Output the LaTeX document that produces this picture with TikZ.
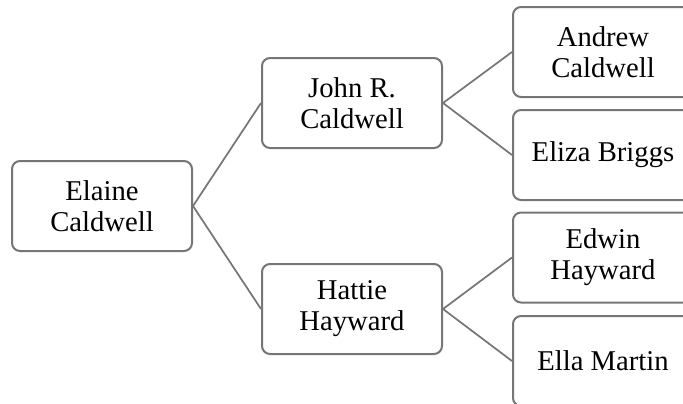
\documentclass[tikz,border=0pt]{standalone}
\usepackage{fontspec}
\setmainfont{Liberation Serif}
\definecolor{edge}{RGB}{118,118,118}
\begin{document}
\begin{tikzpicture}[x=0.75pt,y=-0.75pt,
  person/.style={draw=edge,line width=1.5pt,rounded corners=6pt,fill=white,
    minimum width=135pt,minimum height=67.5pt,align=center,inner sep=0pt,
    font=\fontsize{21.5pt}{23.25pt}\selectfont},
  link/.style={draw=edge,line width=1.3pt}]
\useasboundingbox (0,0) rectangle (683,404);
\clip (0,0) rectangle (683,404);
\node[person] (elaine) at (102,206) {Elaine\\Caldwell};
\node[person] (john) at (352,103) {John R.\\Caldwell};
\node[person] (hattie) at (352,309) {Hattie\\Hayward};
\node[person] (andrew) at (603,52) {Andrew\\Caldwell};
\node[person] (eliza) at (603,155) {Eliza Briggs};
\node[person] (edwin) at (603,257.5) {Edwin\\Hayward};
\node[person] (ella) at (603,361) {Ella Martin};
\draw[link] (elaine.east) -- (john.west);
\draw[link] (elaine.east) -- (hattie.west);
\draw[link] (john.east) -- (andrew.west);
\draw[link] (john.east) -- (eliza.west);
\draw[link] (hattie.east) -- (edwin.west);
\draw[link] (hattie.east) -- (ella.west);
\end{tikzpicture}
\end{document}
